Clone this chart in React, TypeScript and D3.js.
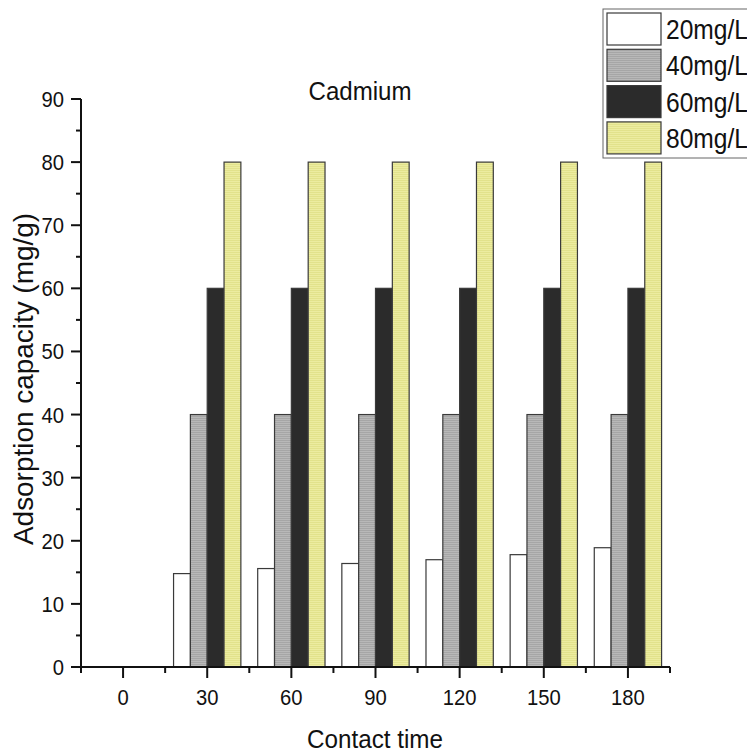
import * as d3 from "d3";

// contact time (min) and adsorption capacity (mg/g) per initial concentration
const times = [0, 30, 60, 90, 120, 150, 180];
const conc20 = [0, 14.8, 15.6, 16.4, 17.0, 17.8, 18.9];
const conc40 = [0, 40, 40, 40, 40, 40, 40];
const conc60 = [0, 60, 60, 60, 60, 60, 60];
const conc80 = [0, 80, 80, 80, 80, 80, 80];
const seriesLabels = ["20mg/L", "40mg/L", "60mg/L", "80mg/L"];
const yTicks = [0, 10, 20, 30, 40, 50, 60, 70, 80, 90];

const FONT = "'Liberation Sans', Arial, Helvetica, sans-serif";
const W = 747;
const H = 753;

const fills = ["#ffffff", "url(#pGray)", "#2b2b2b", "url(#pYellow)"];

export default function App() {
    const x = d3.scaleLinear().domain([-15, 195]).range([81, 670]);
    const y = d3.scaleLinear().domain([0, 90]).range([667, 99]);
    const barW = 6; // minutes per bar
    const series = [conc20, conc40, conc60, conc80];

    const majorX = d3.range(0, 181, 30);
    const minorX = d3.range(-15, 196, 30);
    const minorY = d3.range(5, 90, 10);

    return (
        <div style={{ position: "absolute", left: 0, top: 0 }}>
            <svg width={W} height={H} style={{ display: "block", background: "#fff" }}>
                <defs>
                    <pattern id="pGray" width="4" height="2" patternUnits="userSpaceOnUse">
                        <rect width="4" height="2" fill="#b8b8b8" />
                        <rect width="4" height="1" fill="#a6a6a6" />
                    </pattern>
                    <pattern id="pYellow" width="4" height="2" patternUnits="userSpaceOnUse">
                        <rect width="4" height="2" fill="#ececa0" />
                        <rect width="4" height="1" fill="#e2e28c" />
                    </pattern>
                </defs>

                {/* bars */}
                {times.map((t, i) => (
                    <g key={t}>
                        {series.map((s, k) => {
                            const v = s[i];
                            if (!v) return null;
                            const x0 = x(t - 2 * barW + k * barW);
                            const x1 = x(t - 2 * barW + (k + 1) * barW);
                            return (
                                <rect
                                    key={k}
                                    x={x0}
                                    y={y(v)}
                                    width={x1 - x0}
                                    height={y(0) - y(v)}
                                    fill={fills[k]}
                                    stroke="#3a3a3a"
                                    strokeWidth={1.2}
                                />
                            );
                        })}
                    </g>
                ))}

                {/* axes */}
                <g stroke="#111" strokeWidth={2}>
                    <line x1={x(-15)} x2={x(-15)} y1={y(90)} y2={y(0)} />
                    <line x1={x(-15) - 1} x2={x(195)} y1={y(0)} y2={y(0)} />
                    {yTicks.map(v => (
                        <line key={"ym" + v} x1={71} x2={x(-15)} y1={y(v)} y2={y(v)} />
                    ))}
                    {minorY.map(v => (
                        <line key={"yn" + v} x1={76} x2={x(-15)} y1={y(v)} y2={y(v)} />
                    ))}
                    {majorX.map(v => (
                        <line key={"xm" + v} x1={x(v)} x2={x(v)} y1={y(0)} y2={y(0) + 11} />
                    ))}
                    {minorX.map(v => (
                        <line key={"xn" + v} x1={x(v)} x2={x(v)} y1={y(0)} y2={y(0) + 6} />
                    ))}
                </g>

                <g fontFamily={FONT} fill="#111" fontSize={22}>
                    {yTicks.map(v => (
                        <text key={v} transform={`translate(64,${y(v) + 8}) scale(0.92,1)`} textAnchor="end">
                            {v}
                        </text>
                    ))}
                    {majorX.map(v => (
                        <text key={v} transform={`translate(${x(v)},705) scale(0.92,1)`} textAnchor="middle">
                            {v}
                        </text>
                    ))}
                </g>

                <text
                    x={360}
                    y={100}
                    fontFamily={FONT}
                    fontSize={26}
                    fill="#111"
                    textAnchor="middle"
                    textLength={103}
                    lengthAdjust="spacingAndGlyphs"
                >
                    Cadmium
                </text>
                <text
                    x={375}
                    y={748}
                    fontFamily={FONT}
                    fontSize={25}
                    fill="#111"
                    textAnchor="middle"
                    textLength={136}
                    lengthAdjust="spacingAndGlyphs"
                >
                    Contact time
                </text>
                <text
                    transform="translate(33,379) rotate(-90)"
                    fontFamily={FONT}
                    fontSize={28}
                    fill="#111"
                    textAnchor="middle"
                    textLength={332}
                    lengthAdjust="spacingAndGlyphs"
                >
                    Adsorption capacity (mg/g)
                </text>

                {/* legend */}
                <rect x={603} y={9} width={170} height={149} fill="#fff" stroke="#666" strokeWidth={1} />
                {seriesLabels.map((lab, k) => {
                    const top = 13 + k * 36.3;
                    return (
                        <g key={lab}>
                            <rect x={607} y={top} width={54} height={32} fill={fills[k]} stroke="#3a3a3a" strokeWidth={1.2} />
                            <text
                                x={666}
                                y={top + 26}
                                fontFamily={FONT}
                                fontSize={28}
                                fill="#111"
                                textLength={82}
                                lengthAdjust="spacingAndGlyphs"
                            >
                                {lab}
                            </text>
                        </g>
                    );
                })}
            </svg>
        </div>
    );
}
